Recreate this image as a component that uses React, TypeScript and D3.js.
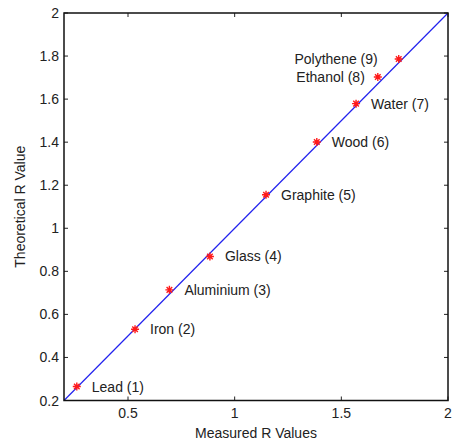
import { useEffect, useRef } from 'react'
import * as d3 from 'd3'

const materials = ['Lead (1)', 'Iron (2)', 'Aluminium (3)', 'Glass (4)', 'Graphite (5)', 'Wood (6)', 'Water (7)', 'Ethanol (8)', 'Polythene (9)']
const measured = [0.26, 0.533, 0.694, 0.884, 1.147, 1.385, 1.569, 1.671, 1.769]
const theoretical = [0.265, 0.531, 0.714, 0.869, 1.156, 1.401, 1.579, 1.703, 1.786]
const xTicks = [0.5, 1, 1.5, 2]
const yTicks = [0.2, 0.4, 0.6, 0.8, 1, 1.2, 1.4, 1.6, 1.8, 2]

// label offset from marker (px); negative = right-aligned to the left
const labelDx = [15, 15, 15, 15, 15, 15, 15, -13, -21]

const width = 461
const height = 447

export default function App() {
  const svgRef = useRef<SVGSVGElement | null>(null)

  useEffect(() => {
    const svgElement = svgRef.current
    if (!svgElement) return
    const svg = d3.select(svgElement)
    svg.selectAll('*').remove()

    const margin = { top: 13, right: 13, bottom: 46.5, left: 64 }
    const innerWidth = width - margin.left - margin.right
    const innerHeight = height - margin.top - margin.bottom
    const font = 'Arial, "Liberation Sans", sans-serif'
    const fs = 14

    const x = d3.scaleLinear().domain([0.2, 2]).range([0, innerWidth])
    const y = d3.scaleLinear().domain([0.2, 2]).range([innerHeight, 0])

    svg.append('rect').attr('width', width).attr('height', height).attr('fill', '#fff')
    const g = svg.append('g').attr('transform', `translate(${margin.left},${margin.top})`)

    // ideal line
    g.append('line')
      .attr('x1', x(0.2)).attr('y1', y(0.2))
      .attr('x2', x(2)).attr('y2', y(2))
      .attr('stroke', '#2222ee').attr('stroke-width', 1.2)

    const tickLen = 4
    const tickColor = '#222'
    xTicks.forEach((t) => {
      g.append('line').attr('x1', x(t)).attr('x2', x(t)).attr('y1', innerHeight).attr('y2', innerHeight - tickLen).attr('stroke', tickColor)
      g.append('line').attr('x1', x(t)).attr('x2', x(t)).attr('y1', 0).attr('y2', tickLen).attr('stroke', tickColor)
      g.append('text')
        .attr('x', x(t)).attr('y', innerHeight + 17.5)
        .attr('text-anchor', 'middle')
        .attr('font-family', font).attr('font-size', fs).attr('fill', '#222')
        .text(String(t))
    })
    yTicks.forEach((t) => {
      g.append('line').attr('x1', 0).attr('x2', tickLen).attr('y1', y(t)).attr('y2', y(t)).attr('stroke', tickColor)
      g.append('line').attr('x1', innerWidth).attr('x2', innerWidth - tickLen).attr('y1', y(t)).attr('y2', y(t)).attr('stroke', tickColor)
      g.append('text')
        .attr('x', -5).attr('y', y(t))
        .attr('text-anchor', 'end').attr('dominant-baseline', 'central')
        .attr('font-family', font).attr('font-size', fs).attr('fill', '#222')
        .text(String(t))
    })

    g.append('rect')
      .attr('width', innerWidth).attr('height', innerHeight)
      .attr('fill', 'none').attr('stroke', '#111').attr('stroke-width', 1.5)

    // asterisk markers
    const s = 4
    measured.forEach((m, i) => {
      const px = x(m)
      const py = y(theoretical[i])
      const d = `M${px - s},${py}L${px + s},${py}M${px},${py - s}L${px},${py + s}` +
        `M${px - s * 0.7},${py - s * 0.7}L${px + s * 0.7},${py + s * 0.7}M${px - s * 0.7},${py + s * 0.7}L${px + s * 0.7},${py - s * 0.7}`
      g.append('path').attr('d', d).attr('stroke', '#ff1a1a').attr('stroke-width', 1.4).attr('fill', 'none')

      g.append('text')
        .attr('x', px + labelDx[i])
        .attr('y', py)
        .attr('text-anchor', labelDx[i] < 0 ? 'end' : 'start')
        .attr('dominant-baseline', 'central')
        .attr('font-family', font).attr('font-size', fs).attr('fill', '#222')
        .text(materials[i])
    })

    g.append('text')
      .attr('x', innerWidth / 2).attr('y', innerHeight + 37.5)
      .attr('text-anchor', 'middle')
      .attr('font-family', font).attr('font-size', fs).attr('fill', '#222')
      .text('Measured R Values')

    g.append('text')
      .attr('transform', 'rotate(-90)')
      .attr('x', -innerHeight / 2).attr('y', -44)
      .attr('text-anchor', 'middle').attr('dominant-baseline', 'central')
      .attr('font-family', font).attr('font-size', fs).attr('fill', '#222')
      .text('Theoretical R Value')
  }, [])

  return (
    <svg
      ref={svgRef}
      width={width}
      height={height}
      style={{ position: 'absolute', left: 0, top: 0, display: 'block' }}
    />
  )
}
